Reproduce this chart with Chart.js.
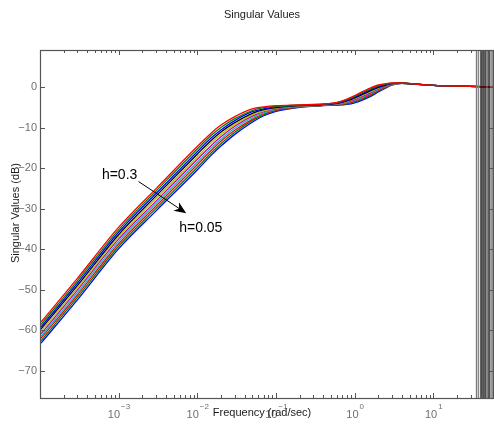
<!DOCTYPE html>
<html><head><meta charset="utf-8">
<script src="https://cdn.jsdelivr.net/npm/chart.js@4.4.0/dist/chart.umd.min.js"></script>
<style>html,body{margin:0;padding:0;background:#fff;}canvas{display:block;}</style>
</head><body>
<canvas id="c" width="494" height="424"></canvas>
<script>
// ---- data ----
const freq = [1.035e-4, 3e-4, 1e-3, 3e-3, 0.01, 0.015, 0.02, 0.03, 0.05, 0.07, 0.1, 0.2, 0.4, 0.6, 0.8, 1.0, 1.3, 1.6, 2.0, 2.5, 3.0, 4.0, 6.0, 10, 20, 59];
const curveNames = ['h=0.05', 'curve 2', 'curve 3', 'curve 4', 'curve 5', 'curve 6', 'curve 7', 'curve 8', 'curve 9', 'h=0.3'];
const sv01 = [-63.2,-52.5,-39.9,-30.5,-20.4,-16.8,-14.5,-11.6,-8.6,-7.0,-5.9,-4.9,-4.5,-4.4,-4.2,-3.8,-3.0,-2.2,-1.1,-0.1,0.6,1.0,0.8,0.5,0.3,0.15];
const sv02 = [-62.6,-51.9,-39.3,-29.9,-19.8,-16.2,-13.9,-11.1,-8.2,-6.8,-5.7,-4.83,-4.46,-4.32,-4.06,-3.6,-2.77,-1.97,-0.91,0.02,0.66,1.01,0.8,0.5,0.3,0.15];
const sv03 = [-62.0,-51.3,-38.7,-29.3,-19.1,-15.6,-13.3,-10.6,-7.9,-6.5,-5.6,-4.77,-4.41,-4.24,-3.91,-3.4,-2.53,-1.73,-0.72,0.13,0.71,1.02,0.8,0.5,0.3,0.15];
const sv04 = [-61.5,-50.7,-38.1,-28.7,-18.5,-15.0,-12.8,-10.1,-7.5,-6.3,-5.4,-4.7,-4.37,-4.17,-3.77,-3.2,-2.3,-1.5,-0.53,0.25,0.77,1.03,0.8,0.5,0.3,0.15];
const sv05 = [-60.9,-50.1,-37.5,-28.1,-17.8,-14.4,-12.2,-9.6,-7.1,-6.0,-5.3,-4.63,-4.32,-4.09,-3.62,-3.0,-2.07,-1.27,-0.34,0.37,0.82,1.04,0.8,0.5,0.3,0.15];
const sv06 = [-60.3,-49.6,-37.0,-27.4,-17.2,-13.7,-11.6,-9.2,-6.8,-5.8,-5.1,-4.57,-4.28,-4.01,-3.48,-2.8,-1.83,-1.03,-0.16,0.48,0.88,1.06,0.8,0.5,0.3,0.15];
const sv07 = [-59.7,-49.0,-36.4,-26.8,-16.5,-13.1,-11.0,-8.7,-6.4,-5.5,-5.0,-4.5,-4.23,-3.93,-3.33,-2.6,-1.6,-0.8,0.03,0.6,0.93,1.07,0.8,0.5,0.3,0.15];
const sv08 = [-59.2,-48.4,-35.8,-26.2,-15.9,-12.5,-10.5,-8.2,-6.0,-5.3,-4.8,-4.43,-4.19,-3.86,-3.19,-2.4,-1.37,-0.57,0.22,0.72,0.99,1.08,0.8,0.5,0.3,0.15];
const sv09 = [-58.6,-47.8,-35.2,-25.6,-15.2,-11.9,-9.9,-7.7,-5.7,-5.0,-4.7,-4.37,-4.14,-3.78,-3.04,-2.2,-1.13,-0.33,0.41,0.83,1.04,1.09,0.8,0.5,0.3,0.15];
const sv10 = [-58.0,-47.2,-34.6,-25.0,-14.6,-11.3,-9.3,-7.2,-5.3,-4.8,-4.5,-4.3,-4.1,-3.7,-2.9,-2.0,-0.9,-0.1,0.6,0.95,1.1,1.1,0.8,0.5,0.3,0.15];
const nyquistFreqs = [35.4, 37.5, 40.4, 42.8, 45.4, 48.1, 51.0, 54.1, 57.3];
const yTicks = [0, -10, -20, -30, -40, -50, -60, -70];
const xDecades = [-3, -2, -1, 0, 1];
const xRange = [1.035e-4, 59];
const yRange = [-77, 9.25];
const titleText = 'Singular Values';
const xTitle = 'Frequency (rad/sec)';
const yTitle = 'Singular Values (dB)';
const noteHigh = {text: 'h=0.3', x: 6.15e-4, y: -22.6};
const noteLow = {text: 'h=0.05', x: 5.9e-3, y: -35.8};
const arrowFrom = [1.795e-3, -23.25];
const arrowTo = [7.24e-3, -31.07];

// ---- styles ----
const curveColors = ['#0000ff', '#008000', '#ff0000', '#00bfbf', '#bf00bf', '#bfbf00', '#000000', '#0000ff', '#008000', '#ff0000'];
const vColors = ['#7a7a7a', '#8a8a8a', '#111111', '#111111', '#111111', '#555555', '#111111', '#777777', '#666666'];
const FONT = '"Liberation Sans", Arial, Helvetica, sans-serif';

const allCurves = [sv01, sv02, sv03, sv04, sv05, sv06, sv07, sv08, sv09, sv10];
const datasets = allCurves.map((arr, i) => ({
  label: curveNames[i],
  data: freq.map((f, k) => ({x: f, y: arr[k]})),
  borderColor: curveColors[i],
  borderWidth: 1.3,
  pointRadius: 0,
  fill: false,
  cubicInterpolationMode: 'monotone',
  order: 10 - i
}));
nyquistFreqs.forEach((w, i) => datasets.push({
  label: 'nyq' + i,
  data: [{x: w, y: yRange[0]}, {x: w, y: yRange[1]}],
  borderColor: vColors[i],
  borderWidth: 1.4,
  pointRadius: 0,
  fill: false,
  order: -1
}));

const decor = {
  id: 'decor',
  afterDraw(chart) {
    const ctx = chart.ctx, a = chart.chartArea, sx = chart.scales.x, sy = chart.scales.y;
    ctx.save();
    // frame
    ctx.strokeStyle = '#555555'; ctx.lineWidth = 1.2;
    ctx.strokeRect(a.left - 0.5, a.top + 0.5, a.right - a.left, a.bottom - a.top - 1);
    ctx.lineWidth = 1;
    // y ticks (inward)
    ctx.beginPath();
    yTicks.forEach(v => {
      const y = Math.round(sy.getPixelForValue(v)) + 0.5;
      ctx.moveTo(a.left, y); ctx.lineTo(a.left + 4, y);
      ctx.moveTo(a.right, y); ctx.lineTo(a.right - 4, y);
    });
    // x ticks
    for (let d = -4; d <= 1; d++) {
      for (let m = 1; m <= 9; m++) {
        const v = m * Math.pow(10, d);
        if (v < xRange[0] || v > xRange[1]) continue;
        const x = Math.round(sx.getPixelForValue(v)) + 0.5;
        const len = m === 1 ? 5 : 3;
        ctx.moveTo(x, a.bottom - 1); ctx.lineTo(x, a.bottom - 1 - len);
        ctx.moveTo(x, a.top); ctx.lineTo(x, a.top + len);
      }
    }
    ctx.stroke();
    // x tick labels 10^d
    ctx.fillStyle = '#6f6f6f';
    ctx.textBaseline = 'alphabetic';
    ctx.textAlign = 'left';
    xDecades.forEach(d => {
      const x = sx.getPixelForValue(Math.pow(10, d));
      const sup = d < 0 ? '\u2212' + Math.abs(d) : String(d);
      ctx.font = '11px ' + FONT;
      const w1 = ctx.measureText('10').width;
      ctx.font = '8px ' + FONT;
      const w2 = ctx.measureText(sup).width;
      const x0 = x + 0.5 - (w1 + 1 + w2) / 2;
      ctx.font = '11px ' + FONT;
      ctx.fillText('10', x0, 418);
      ctx.font = '8px ' + FONT;
      ctx.fillText(sup, x0 + w1 + 1, 409);
    });
    // axis titles
    ctx.fillStyle = '#1a1a1a';
    ctx.font = '11px ' + FONT;
    ctx.textAlign = 'center';
    ctx.fillText(xTitle, 262, 416);
    ctx.fillText(titleText, 262, 18);
    ctx.save();
    ctx.translate(18.5, 213);
    ctx.rotate(-Math.PI / 2);
    ctx.fillText(yTitle, 0, 0);
    ctx.restore();
    // annotations
    ctx.fillStyle = '#000';
    ctx.font = '14px ' + FONT;
    ctx.textAlign = 'left';
    [noteHigh, noteLow].forEach(n => ctx.fillText(n.text, sx.getPixelForValue(n.x), sy.getPixelForValue(n.y)));
    // arrow
    const x0 = sx.getPixelForValue(arrowFrom[0]), y0 = sy.getPixelForValue(arrowFrom[1]);
    const x1 = sx.getPixelForValue(arrowTo[0]), y1 = sy.getPixelForValue(arrowTo[1]);
    const dx = x1 - x0, dy = y1 - y0, L = Math.hypot(dx, dy), ux = dx / L, uy = dy / L, px = -uy, py = ux;
    const hl = 12, hw = 5, notch = 3.5;
    ctx.strokeStyle = '#000'; ctx.lineWidth = 1;
    ctx.beginPath(); ctx.moveTo(x0, y0); ctx.lineTo(x1 - ux * (hl - notch), y1 - uy * (hl - notch)); ctx.stroke();
    ctx.beginPath();
    ctx.moveTo(x1, y1);
    ctx.lineTo(x1 - ux * hl + px * hw, y1 - uy * hl + py * hw);
    ctx.lineTo(x1 - ux * (hl - notch), y1 - uy * (hl - notch));
    ctx.lineTo(x1 - ux * hl - px * hw, y1 - uy * hl - py * hw);
    ctx.closePath(); ctx.fill();
    ctx.restore();
  }
};

new Chart(document.getElementById('c'), {
  type: 'line',
  data: {datasets},
  options: {
    responsive: false,
    devicePixelRatio: 1,
    animation: false,
    events: [],
    layout: {padding: {top: 50, left: 0, right: 0, bottom: 0}},
    plugins: {legend: {display: false}, tooltip: {enabled: false}, title: {display: false}},
    scales: {
      x: {
        type: 'logarithmic', min: xRange[0], max: xRange[1],
        grid: {display: false}, border: {display: false},
        ticks: {display: false},
        afterFit: s => { s.height = 25; }
      },
      y: {
        type: 'linear', min: yRange[0], max: yRange[1],
        grid: {display: false, drawTicks: false}, border: {display: false},
        afterBuildTicks: s => { s.ticks = yTicks.map(v => ({value: v})); },
        ticks: {
          padding: 4, color: '#6f6f6f', font: {family: FONT, size: 11},
          callback: v => v === 0 ? '0' : '\u2212' + Math.abs(v)
        },
        afterFit: s => { s.width = 41; }
      }
    }
  },
  plugins: [decor]
});
</script>
</body></html>
